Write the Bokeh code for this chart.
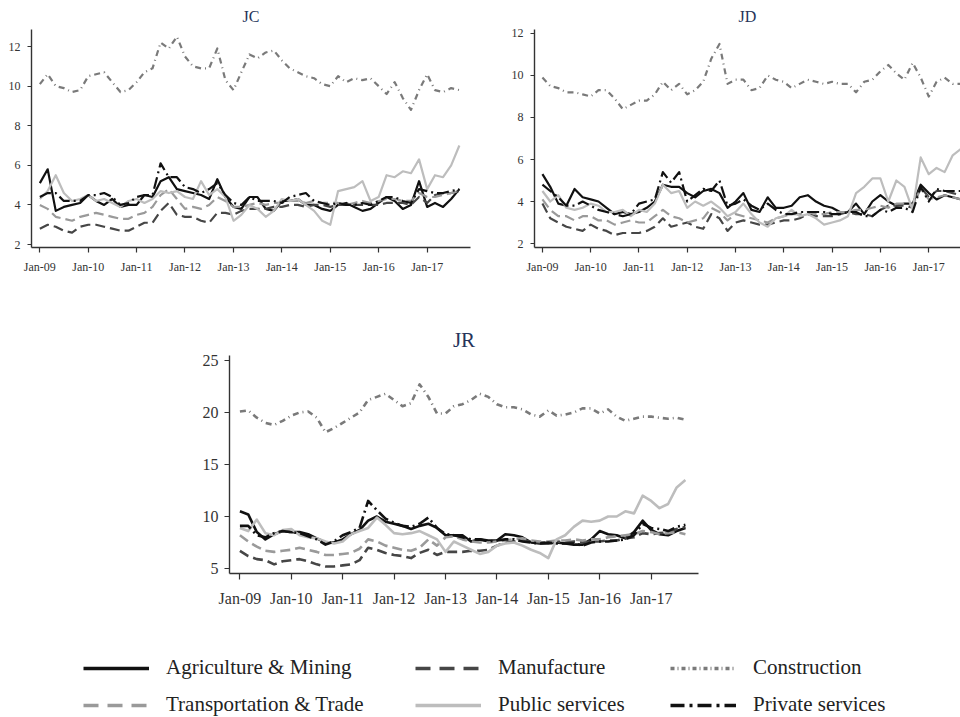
import pandas as pd
from bokeh.plotting import figure
from bokeh.models import (FixedTicker, DatetimeTickFormatter, Range1d, Legend,
                          LegendItem)
from bokeh.layouts import column, row
from bokeh.embed import file_html
from bokeh.resources import INLINE

# ---------------- data ----------------
dates = pd.date_range("2009-01-01", "2017-09-01", freq="2MS")   # bimonthly readings
tick_years = [2009, 2010, 2011, 2012, 2013, 2014, 2015, 2016, 2017]
tick_labels = ["Jan-09", "Jan-10", "Jan-11", "Jan-12", "Jan-13", "Jan-14", "Jan-15", "Jan-16", "Jan-17"]

series_names = ["Agriculture & Mining", "Manufacture", "Construction",
                "Transportation & Trade", "Public services", "Private services"]

jc_agri = [5.1, 5.8, 3.7, 3.9, 4.0, 4.1, 4.5, 4.2, 4.0, 4.3, 3.9, 4.0,
           4.0, 4.5, 4.4, 5.2, 5.4, 4.8, 4.7, 4.6, 4.5, 4.3, 5.3, 4.4,
           3.9, 3.8, 4.4, 4.4, 3.8, 3.7, 4.2, 4.2, 4.3, 4.0, 4.0, 3.8,
           3.7, 4.0, 4.1, 3.9, 3.7, 3.8, 4.1, 4.4, 4.2, 3.8, 4.0, 5.2,
           3.9, 4.1, 3.9, 4.3, 4.8]
jc_manu = [2.8, 3.0, 2.9, 2.7, 2.6, 2.9, 3.0, 3.0, 2.9, 2.8, 2.7, 2.7,
           2.9, 3.1, 3.1, 3.7, 4.1, 3.5, 3.4, 3.4, 3.2, 3.1, 3.6, 3.6,
           3.5, 3.7, 3.8, 3.8, 3.8, 3.9, 3.9, 4.0, 4.0, 3.9, 4.0, 4.0,
           3.9, 4.0, 4.0, 4.0, 4.0, 4.0, 4.0, 4.1, 4.1, 4.1, 4.0, 4.4,
           4.1, 4.5, 4.6, 4.6, 4.7]
jc_cons = [10.1, 10.6, 10.0, 9.9, 9.7, 9.8, 10.5, 10.6, 10.7, 10.2, 9.7, 9.8,
           10.2, 10.7, 10.9, 12.2, 11.9, 12.5, 11.5, 11.0, 10.9, 10.9, 11.9, 10.3,
           9.8, 10.7, 11.6, 11.4, 11.7, 11.8, 11.3, 10.9, 10.7, 10.5, 10.4, 10.1,
           10.0, 10.5, 10.2, 10.4, 10.3, 10.4, 10.0, 9.6, 10.2, 9.4, 8.8, 9.8,
           10.6, 9.8, 9.7, 9.9, 9.8]
jc_trans = [4.0, 3.8, 3.4, 3.3, 3.2, 3.4, 3.5, 3.6, 3.5, 3.4, 3.3, 3.3,
            3.5, 3.6, 3.9, 4.5, 4.8, 4.3, 3.8, 3.9, 3.8, 4.0, 4.4, 4.2,
            3.9, 3.9, 4.0, 4.1, 4.0, 4.1, 4.1, 4.2, 4.2, 4.1, 4.2, 4.1,
            4.1, 4.1, 4.0, 4.1, 4.2, 4.1, 4.2, 4.3, 4.3, 4.2, 4.2, 4.6,
            4.4, 4.4, 4.5, 4.6, 4.7]
jc_pub = [4.3, 4.7, 5.5, 4.6, 4.2, 4.3, 4.5, 4.2, 4.3, 4.1, 3.9, 4.2,
          4.3, 4.1, 4.3, 4.7, 4.6, 4.7, 4.4, 4.3, 5.2, 4.5, 4.8, 4.4,
          3.2, 3.5, 4.0, 3.8, 3.4, 3.7, 4.3, 4.2, 4.3, 4.0, 3.7, 3.2,
          3.0, 4.7, 4.8, 4.9, 5.2, 4.2, 4.4, 5.5, 5.4, 5.7, 5.6, 6.3,
          4.8, 5.5, 5.4, 6.0, 7.0]
jc_priv = [4.4, 4.6, 4.6, 4.2, 4.2, 4.2, 4.5, 4.5, 4.6, 4.4, 4.0, 4.1,
           4.4, 4.5, 4.5, 6.1, 5.4, 5.4, 4.9, 4.8, 4.6, 4.8, 5.1, 4.5,
           4.1, 4.0, 4.4, 4.2, 4.2, 4.2, 4.1, 4.4, 4.5, 4.6, 4.2, 4.1,
           4.0, 4.1, 4.0, 4.0, 4.1, 4.0, 4.2, 4.4, 4.4, 4.2, 4.1, 4.8,
           4.7, 4.6, 4.6, 4.7, 4.8]

jd_agri = [5.3, 4.7, 3.9, 3.8, 4.6, 4.2, 4.1, 4.0, 3.7, 3.4, 3.5, 3.4,
           3.5, 3.7, 4.0, 4.8, 4.7, 4.7, 4.4, 4.2, 4.5, 4.6, 4.4, 3.7,
           4.0, 4.4, 3.6, 3.5, 4.2, 3.7, 3.7, 3.8, 4.2, 4.3, 4.0, 3.8,
           3.7, 3.5, 3.5, 3.9, 3.4, 4.0, 4.3, 4.0, 3.8, 3.9, 3.9, 4.8,
           4.4, 4.1, 4.3, 4.2, 4.1]
jd_manu = [3.9, 3.2, 3.0, 2.8, 2.7, 2.6, 2.9, 2.7, 2.6, 2.4, 2.5, 2.5,
           2.5, 2.6, 2.8, 3.2, 2.8, 2.9, 3.0, 2.8, 2.7, 3.4, 3.2, 2.6,
           3.0, 3.1, 3.0, 2.9, 2.9, 3.0, 3.1, 3.1, 3.2, 3.4, 3.3, 3.3,
           3.3, 3.4, 3.5, 3.4, 3.4, 3.3, 3.6, 3.8, 3.8, 3.8, 3.7, 4.7,
           4.2, 4.5, 4.5, 4.4, 4.3]
jd_cons = [9.9, 9.5, 9.4, 9.2, 9.2, 9.1, 9.0, 9.3, 9.3, 8.9, 8.4, 8.6,
           8.8, 8.8, 9.1, 9.7, 9.3, 9.6, 9.1, 9.3, 9.7, 10.8, 11.5, 9.6,
           9.8, 9.8, 9.3, 9.4, 10.0, 9.8, 9.7, 9.4, 9.6, 9.8, 9.7, 9.6,
           9.7, 9.6, 9.6, 9.2, 9.7, 9.8, 10.2, 10.5, 10.1, 9.8, 10.6, 9.9,
           9.0, 9.7, 9.9, 9.6, 9.6]
jd_trans = [4.1, 3.6, 3.3, 3.3, 3.1, 3.3, 3.3, 3.1, 3.1, 2.9, 3.0, 3.1,
            3.0, 3.0, 3.3, 3.6, 3.3, 3.2, 3.0, 3.1, 3.2, 3.7, 3.5, 3.1,
            3.4, 3.3, 3.2, 3.1, 3.0, 3.2, 3.3, 3.4, 3.4, 3.5, 3.4, 3.4,
            3.5, 3.5, 3.5, 3.6, 3.6, 3.7, 3.8, 3.7, 3.9, 3.9, 3.8, 4.6,
            4.1, 4.2, 4.3, 4.2, 4.1]
jd_pub = [4.5, 4.0, 4.3, 3.7, 3.6, 3.7, 3.9, 3.8, 3.5, 3.5, 3.6, 3.3,
          3.6, 3.5, 3.9, 4.8, 4.4, 4.5, 3.7, 4.0, 3.8, 4.0, 3.7, 3.3,
          3.5, 3.9, 3.4, 3.0, 2.8, 3.2, 3.3, 3.6, 3.3, 3.4, 3.2, 2.9,
          3.0, 3.1, 3.3, 4.4, 4.7, 5.1, 5.1, 4.0, 5.0, 4.7, 3.6, 6.1,
          5.3, 5.6, 5.4, 6.2, 6.5]
jd_priv = [4.8, 4.5, 4.2, 3.8, 3.8, 4.0, 3.8, 3.6, 3.5, 3.4, 3.3, 3.4,
           3.9, 4.0, 4.1, 5.4, 4.9, 5.4, 4.0, 4.3, 4.6, 4.5, 5.0, 3.8,
           3.9, 4.1, 3.8, 3.6, 3.9, 3.6, 3.4, 3.4, 3.5, 3.5, 3.5, 3.5,
           3.4, 3.4, 3.5, 3.5, 3.3, 3.3, 3.6, 3.5, 3.7, 3.7, 3.5, 4.7,
           4.0, 4.6, 4.5, 4.5, 4.5]

jr_agri = [10.5, 10.2, 8.5, 7.8, 8.3, 8.6, 8.5, 8.5, 8.3, 7.9, 7.5, 7.5,
           7.8, 8.3, 8.7, 9.6, 10.0, 9.5, 9.3, 9.1, 8.8, 9.1, 9.3, 8.9,
           8.2, 8.2, 8.2, 7.6, 7.8, 7.7, 7.7, 8.3, 8.2, 8.0, 7.5, 7.4,
           7.4, 7.5, 7.4, 7.3, 7.3, 7.8, 8.6, 8.3, 8.2, 7.9, 8.5, 9.6,
           8.7, 8.3, 8.2, 8.6, 8.9]
jr_manu = [6.7, 6.2, 5.9, 5.8, 5.4, 5.7, 5.8, 5.9, 5.7, 5.4, 5.2, 5.2,
           5.3, 5.4, 5.8, 7.0, 6.8, 6.5, 6.3, 6.2, 6.0, 6.5, 6.8, 6.3,
           6.6, 6.6, 6.6, 6.7, 6.7, 6.8, 7.2, 7.5, 7.6, 7.7, 7.6, 7.5,
           7.5, 7.6, 7.5, 7.6, 7.5, 7.6, 7.6, 7.7, 7.7, 7.9, 8.0, 8.4,
           8.3, 8.4, 8.5, 8.8, 9.0]
jr_cons = [20.1, 20.2, 19.5, 19.0, 18.8, 19.2, 19.7, 20.0, 20.1, 19.5, 18.1, 18.5,
           19.0, 19.5, 20.0, 21.2, 21.5, 21.8, 21.2, 20.6, 20.9, 22.7, 21.5, 19.9,
           19.9, 20.6, 20.8, 21.2, 21.8, 21.5, 20.8, 20.5, 20.5, 20.3, 19.8, 19.6,
           20.2, 19.7, 19.8, 20.0, 20.4, 20.4, 19.9, 20.3, 19.6, 19.2, 19.4, 19.6,
           19.6, 19.5, 19.4, 19.5, 19.3]
jr_trans = [8.2, 7.6, 7.1, 6.7, 6.6, 6.7, 6.8, 7.0, 6.8, 6.6, 6.3, 6.3,
            6.4, 6.5, 6.9, 7.8, 7.6, 7.2, 7.0, 6.8, 6.7, 7.0, 7.8, 7.2,
            8.0, 8.1, 7.8, 7.6, 7.5, 7.5, 7.6, 7.7, 7.8, 7.9, 7.7, 7.6,
            7.6, 7.7, 7.7, 7.8, 7.7, 7.8, 7.8, 8.0, 8.1, 8.2, 8.3, 8.6,
            8.5, 8.3, 8.4, 8.5, 8.3]
jr_pub = [8.9, 8.6, 9.7, 8.4, 8.2, 8.7, 8.8, 8.2, 8.0, 7.9, 7.6, 7.4,
          7.6, 8.3, 8.6, 8.9, 9.9, 9.2, 8.4, 8.3, 8.4, 8.6, 8.2, 7.8,
          6.6, 7.6, 7.2, 6.8, 6.4, 6.6, 7.2, 7.4, 7.5, 7.2, 6.8, 6.5,
          6.0, 7.8, 8.2, 9.0, 9.6, 9.5, 9.6, 10.0, 10.0, 10.5, 10.3, 12.0,
          11.5, 10.8, 11.2, 12.8, 13.5]
jr_priv = [9.1, 9.1, 8.2, 8.0, 8.4, 8.6, 8.5, 8.4, 8.1, 7.8, 7.3, 7.6,
           8.2, 8.5, 8.9, 11.5, 10.6, 9.8, 9.4, 9.1, 9.0, 9.3, 9.9, 8.9,
           8.3, 8.2, 8.0, 7.8, 7.8, 7.6, 7.7, 7.8, 7.8, 7.6, 7.5, 7.4,
           7.5, 7.4, 7.4, 7.4, 7.2, 7.5, 7.6, 7.6, 7.7, 7.8, 8.2, 9.3,
           8.9, 8.8, 8.6, 9.0, 9.2]

jc = [jc_agri, jc_manu, jc_cons, jc_trans, jc_pub, jc_priv]
jd = [jd_agri, jd_manu, jd_cons, jd_trans, jd_pub, jd_priv]
jr = [jr_agri, jr_manu, jr_cons, jr_trans, jr_pub, jr_priv]

# ---------------- styles ----------------
COLORS = ["#111111", "#464646", "#7a7a7a", "#9a9a9a", "#bdbdbd", "#111111"]
DASH = ["solid", "10 5", "6 4 1 4", "10 5", "solid", "12 4 2 4"]
LEG_DASH = ["solid", "15 9", "4 3 1 3", "15 9", "solid", "14 5 3 5"]
FONT = "Liberation Serif"
AXC = "#333333"
TITLE_C = "#26345a"

tick_ms = [pd.Timestamp(f"{y}-01-01").value / 1e6 for y in tick_years]
fmt = "%b-%y"


def make_panel(title, data, xr, yr, yticks, w, h, borders, tick_fs, title_fs,
               lw, tick_out, standoff, title_standoff, title_offset=0):
    p = figure(width=w, height=h, x_axis_type="datetime",
               x_range=Range1d(*xr), y_range=Range1d(*yr),
               output_backend="svg", toolbar_location=None,
               min_border_left=borders[0], min_border_right=borders[1],
               min_border_top=borders[2], min_border_bottom=borders[3],
               title=title)
    p.title.align = "center"
    p.title.text_font = FONT
    p.title.text_font_style = "normal"
    p.title.text_font_size = title_fs
    p.title.text_color = TITLE_C
    p.title.standoff = title_standoff
    p.title.offset = title_offset
    p.grid.visible = False
    p.outline_line_color = None
    for vals, c, d in zip(data, COLORS, DASH):
        p.line(dates, vals, line_color=c, line_width=lw, line_dash=d,
               line_join="round")
    p.xaxis.ticker = FixedTicker(ticks=tick_ms)
    p.xaxis.formatter = DatetimeTickFormatter(years=fmt, months=fmt, days=fmt,
                                              hours=fmt, minutes=fmt)
    p.xaxis.major_label_overrides = {t: l for t, l in zip(tick_ms, tick_labels)}
    p.yaxis.ticker = FixedTicker(ticks=yticks)
    for ax in (p.xaxis[0], p.yaxis[0]):
        ax.axis_line_color = AXC
        ax.axis_line_width = 1.4
        ax.major_tick_line_color = AXC
        ax.major_tick_line_width = 1.2
        ax.major_tick_in = 0
        ax.minor_tick_line_color = None
        ax.major_label_text_font = FONT
        ax.major_label_text_font_size = tick_fs
        ax.major_label_text_color = AXC
    p.xaxis.major_tick_out = tick_out[0]
    p.yaxis.major_tick_out = tick_out[1]
    p.xaxis.major_label_standoff = standoff[0]
    p.yaxis.major_label_standoff = standoff[1]
    return p


T = pd.Timestamp
# page coordinates start at (0, 0): Bokeh's page template sets the body margin to 0
p1 = make_panel("JC", jc, (T("2008-10-30"), T("2017-11-24")), (1.85, 12.86),
                [2, 4, 6, 8, 10, 12], 508, 290, (31, 38, 29, 43),
                "12px", "16px", 2.2, (5, 4), (7, 7), 9)
p2 = make_panel("JD", jd, (T("2008-11-02"), T("2017-08-29")), (1.81, 12.19),
                [2, 4, 6, 8, 10, 12], 452, 290, (24, 0, 29, 43),
                "12px", "16px", 2.2, (5, 4), (7, 7), 9, 6)
p3 = make_panel("JR", jr, (T("2008-10-19"), T("2017-12-03")), (4.52, 25.48),
                [5, 10, 15, 20, 25], 720, 340, (229, 22, 65, 57),
                "16px", "21px", 2.6, (6, 5), (10, 6), 7)

# ---------------- legend ----------------
p4 = figure(width=960, height=87, output_backend="svg", toolbar_location=None,
            min_border=0, x_range=(0, 1), y_range=(0, 1),
            x_axis_location=None, y_axis_location=None)
p4.grid.visible = False
p4.outline_line_color = None
nan = float("nan")
rs = [p4.line(x=[nan], y=[nan], line_color=c, line_width=3.6, line_dash=d)
      for c, d in zip(COLORS, LEG_DASH)]
col_x = [83, 415, 670]
for c in range(3):
    items = [LegendItem(label=series_names[c], renderers=[rs[c]]),
             LegendItem(label=series_names[c + 3], renderers=[rs[c + 3]])]
    leg = Legend(items=items, location=(col_x[c], 0), orientation="vertical",
                 glyph_width=66, glyph_height=24, label_height=24,
                 label_standoff=17, spacing=12, padding=0, margin=0,
                 border_line_color=None, background_fill_alpha=0,
                 label_text_font=FONT, label_text_font_size="21px",
                 label_text_color="#222222")
    p4.add_layout(leg, "center")

layout = column(row(p1, p2), row(p3), row(p4))

open("out.html", "w").write(file_html(layout, INLINE, title="Sector rates"))
